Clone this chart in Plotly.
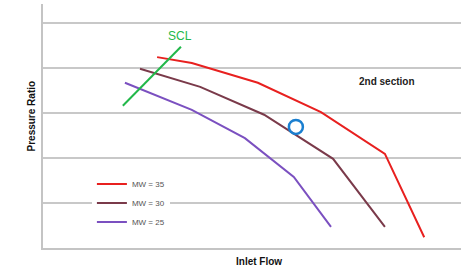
import plotly.graph_objects as go

# Data (arbitrary units)
red_x = [2.73, 3.56, 5.14, 6.65, 8.18, 9.12]
red_y = [4.24, 4.11, 3.67, 3.02, 2.09, 0.24]
brown_x = [2.32, 3.76, 5.29, 6.94, 8.18]
brown_y = [3.98, 3.58, 2.96, 1.98, 0.47]
purple_x = [1.96, 3.56, 4.83, 6.00, 6.89]
purple_y = [3.67, 3.07, 2.44, 1.58, 0.47]
scl_x = [1.91, 3.30]
scl_y = [3.16, 4.47]
point_x = [6.05]
point_y = [2.69]
series_names = ["MW = 35", "MW = 30", "MW = 25"]

fig = go.Figure()
fig.add_trace(go.Scatter(x=red_x, y=red_y, mode="lines", name=series_names[0],
                         line=dict(color="#e8201f", width=2)))
fig.add_trace(go.Scatter(x=brown_x, y=brown_y, mode="lines", name=series_names[1],
                         line=dict(color="#7a3a4a", width=2)))
fig.add_trace(go.Scatter(x=purple_x, y=purple_y, mode="lines", name=series_names[2],
                         line=dict(color="#7b50c0", width=2)))
fig.add_trace(go.Scatter(x=scl_x, y=scl_y, mode="lines", showlegend=False,
                         line=dict(color="#22b84a", width=2)))
fig.add_trace(go.Scatter(x=point_x, y=point_y, mode="markers", showlegend=False,
                         marker=dict(symbol="circle-open", size=14, color="#1a7fd0",
                                     line=dict(width=2.5, color="#1a7fd0"))))

fig.add_annotation(x=3.28, y=4.71, text="SCL", showarrow=False,
                   font=dict(family="Liberation Sans", size=12, color="#22b84a"))
fig.add_annotation(x=8.23, y=3.69, text="<b>2nd section</b>", showarrow=False,
                   font=dict(family="Liberation Sans", size=10, color="#222222"))
fig.add_annotation(xref="paper", yref="paper", x=0.517, y=0, yshift=-13, yanchor="middle",
                   text="<b>Inlet Flow</b>", showarrow=False,
                   font=dict(family="Liberation Sans", size=10, color="#111111"))
fig.add_annotation(xref="paper", yref="paper", x=0, xshift=-19.5, y=0.539, yanchor="middle",
                   textangle=-90, text="<b>Pressure Ratio</b>", showarrow=False,
                   font=dict(family="Liberation Sans", size=10, color="#111111"))

fig.update_layout(
    width=462, height=271,
    margin=dict(l=43, r=1, t=4, b=23, pad=0, autoexpand=False),
    paper_bgcolor="white", plot_bgcolor="white",
    showlegend=True,
    legend=dict(x=0.117, y=0.322, xanchor="left", yanchor="top",
                bgcolor="white", borderwidth=0,
                font=dict(family="Liberation Sans", size=8, color="#555555")),
    xaxis=dict(range=[0, 10], showgrid=False, zeroline=False, showticklabels=False,
               ticks="", showline=True, linecolor="#c4c4c4", linewidth=1.5),
    yaxis=dict(range=[0, 5.42], dtick=1, showgrid=True, gridcolor="#c8c8c8", gridwidth=1.5,
               zeroline=False, showticklabels=False, ticks="",
               showline=True, linecolor="#c4c4c4", linewidth=1.5),
)

fig.write_html("out.html", config={"displayModeBar": False},
               post_script="document.body.style.margin='0';")
